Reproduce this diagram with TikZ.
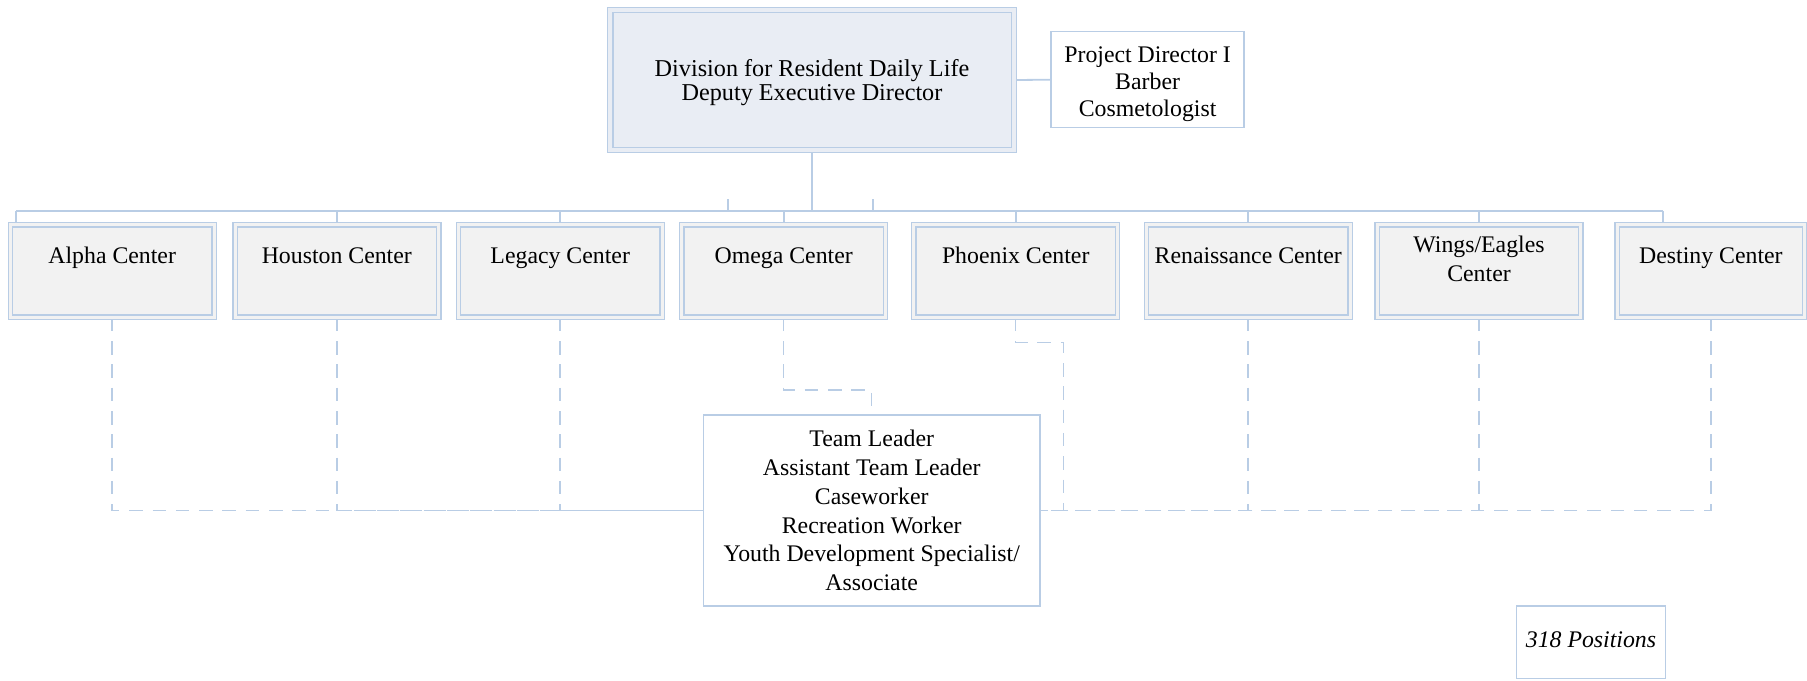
\documentclass[tikz,border=0pt]{standalone}
\usepackage{fontspec}
\setmainfont{Liberation Serif}
\usetikzlibrary{backgrounds}
\definecolor{edge}{RGB}{185,205,229}
\definecolor{unitfill}{RGB}{242,242,242}
\definecolor{headfill}{RGB}{233,237,244}
\tikzset{
  ringbox/.style={draw=edge, line width=1.4pt, double=#1, double distance=3pt, fill=#1, inner sep=0pt},
  centerbox/.style={ringbox=unitfill, minimum width=203.6pt, minimum height=92.2pt},
  plainbox/.style={draw=edge, line width=1.5pt, fill=white, inner sep=0pt},
  lbl/.style={inner sep=0pt, align=center, font=\fontsize{23.8}{28.9}\selectfont},
  oneline/.style={lbl, text height=16.3pt, text depth=5.2pt},
  link/.style={draw=edge, line width=1.8pt},
  dlink/.style={draw=edge, line width=1.5pt, dash pattern=on 13.5pt off 9.8pt},
}
\begin{document}
\begin{tikzpicture}[x=1pt,y=-1pt]
\useasboundingbox (0,0) rectangle (1807,680);

% division head and its staff box
\node[ringbox=headfill, double distance=4pt, minimum width=403.7pt, minimum height=140pt] (head) at (812.2,80) {};
\node[plainbox, minimum width=192.8pt, minimum height=96pt] (proj) at (1147.6,79.7) {};
\node[lbl, font=\fontsize{24.2}{23.5}\selectfont] (headtxt) at (812,82.5) {Division for Resident Daily Life\\Deputy Executive Director};
\node[lbl, font=\fontsize{23.8}{26.7}\selectfont] (projtxt) at (1147.6,84.2) {Project Director I\\Barber\\Cosmetologist};

% residential centers
\foreach \n/\x in {alpha/112.2, houston/336.8, legacy/560.2, omega/783.7, phoenix/1015.7, renaissance/1248.2, wings/1479}
  \node[centerbox] (\n) at (\x,271) {};
\node[centerbox, minimum width=187.3pt] (destiny) at (1710.9,271) {};

\node[oneline] (alphatxt) at ([yshift=13pt]alpha.center) {Alpha Center};
\node[oneline] (houstontxt) at ([yshift=13pt]houston.center) {Houston Center};
\node[oneline] (legacytxt) at ([yshift=13pt]legacy.center) {Legacy Center};
\node[oneline] (omegatxt) at ([yshift=13pt]omega.center) {Omega Center};
\node[oneline] (phoenixtxt) at ([yshift=13pt]phoenix.center) {Phoenix Center};
\node[oneline] (renaissancetxt) at ([yshift=13pt]renaissance.center) {Renaissance Center};
\node[lbl, font=\fontsize{23.8}{28.3}\selectfont] (wingstxt) at ([yshift=12pt]wings.center) {Wings/Eagles\\Center};
\node[oneline] (destinytxt) at ([yshift=13pt]destiny.center) {Destiny Center};

% shared staff box
\node[plainbox, minimum width=336.7pt, minimum height=191pt] (team) at (871.7,510.5) {};
\node[lbl] (teamtxt) at (871.7,510.5) {Team Leader\\Assistant Team Leader\\Caseworker\\Recreation Worker\\Youth Development Specialist/\\Associate};

% position count
\node[plainbox, minimum width=148.6pt, minimum height=72.3pt] (count) at (1591,642.2) {};
\node[oneline, font=\fontsize{23.8}{28.9}\selectfont\itshape] (counttxt) at (1591,641.7) {318 Positions};

\begin{scope}[on background layer]
  \coordinate (barL) at (16,211.3);
  \coordinate (barR) at (1663.3,211.3);
  \coordinate (tickA) at (728,199.3);
  \coordinate (tickB) at (872.7,199.3);
  \draw[link] (barL) -- (barR);
  \draw[link] (head.south) -- (head.south |- barL);
  \draw[link] (head.east) -- (proj.west);
  \draw[link] (tickA) -- (tickA |- barL);
  \draw[link] (tickB) -- (tickB |- barL);
  \draw[link] (barL) -- (barL |- alpha.north);
  \foreach \n in {houston,legacy,omega,phoenix,renaissance,wings}
    \draw[link] (\n.north |- barL) -- (\n.north);
  \draw[link] (barR) -- (barR |- destiny.north);
  % dashed links down to the shared staff box
  \foreach \n in {alpha,houston,legacy}
    \draw[dlink] (\n.south) |- (team.west);
  \foreach \n in {renaissance,wings,destiny}
    \draw[dlink] (\n.south) |- (team.east);
  \coordinate (ojog) at (871.7,390);
  \draw[dlink] (omega.south) |- (ojog) -- (team.north);
  \coordinate (pjog) at (1063.7,342.7);
  \draw[dlink] (phoenix.south) |- (pjog) |- (team.east);
\end{scope}
\end{tikzpicture}
\end{document}
